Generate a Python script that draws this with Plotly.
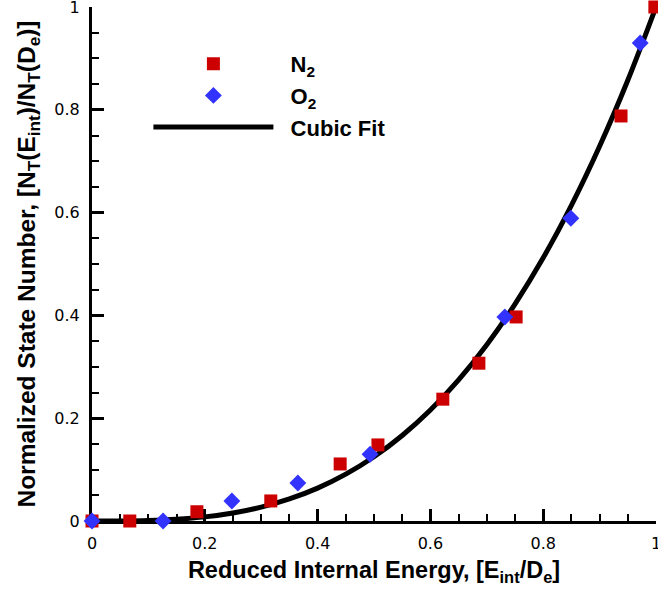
import plotly.graph_objects as go

# Data
n2_x = [0.0, 0.067, 0.186, 0.317, 0.44, 0.507, 0.622, 0.686, 0.752, 0.938, 0.998]
n2_y = [0.0, 0.0, 0.018, 0.039, 0.111, 0.148, 0.237, 0.307, 0.397, 0.788, 1.0]

o2_x = [0.0, 0.126, 0.248, 0.365, 0.493, 0.732, 0.849, 0.972]
o2_y = [0.0, 0.0, 0.039, 0.074, 0.130, 0.397, 0.589, 0.930]

fit_x = [0.0, 0.05, 0.1, 0.15, 0.2, 0.25, 0.3, 0.35, 0.4, 0.45, 0.5,
         0.55, 0.6, 0.65, 0.7, 0.75, 0.8, 0.85, 0.9, 0.95, 1.0]
fit_y = [0.0, 0.0001, 0.001, 0.0034, 0.008, 0.0156, 0.027, 0.0429, 0.064, 0.0911, 0.125,
         0.1664, 0.216, 0.2746, 0.343, 0.4219, 0.512, 0.6141, 0.729, 0.8574, 1.0]

tick_vals = [0, 0.2, 0.4, 0.6, 0.8, 1]
tick_text = ["0", "0.2", "0.4", "0.6", "0.8", "1"]

BOLD = "Liberation Sans, Arial, Helvetica, sans-serif"
TICKF = "DejaVu Sans, Liberation Sans, sans-serif"
NB = "\u00a0\u00a0"

fig = go.Figure()
fig.add_trace(go.Scatter(
    x=fit_x, y=fit_y, mode="lines", name=NB + "Cubic Fit",
    line=dict(color="black", width=5, shape="spline"),
    cliponaxis=False, legendrank=3,
))
fig.add_trace(go.Scatter(
    x=n2_x, y=n2_y, mode="markers", name=NB + "N<sub>2</sub>",
    marker=dict(symbol="square", size=13, color="#cc0000"),
    cliponaxis=False, legendrank=1,
))
fig.add_trace(go.Scatter(
    x=o2_x, y=o2_y, mode="markers", name=NB + "O<sub>2</sub>",
    marker=dict(symbol="diamond", size=13, color="#3333ff"),
    cliponaxis=False, legendrank=2,
))

axis_common = dict(
    range=[0, 1],
    tickvals=tick_vals, ticktext=tick_text,
    ticks="inside", ticklen=12, tickwidth=2.5, tickcolor="black",
    showline=True, linecolor="black", linewidth=3,
    showgrid=False, zeroline=False,
    layer="below traces",
    ticklabeloverflow="allow",
    ticklabelstandoff=6,
    tickfont=dict(family=TICKF, size=16, color="black"),
    minor=dict(dtick=0.05, ticks="inside", ticklen=7, tickwidth=1.5,
               tickcolor="black", showgrid=False),
)

fig.update_xaxes(
    **axis_common,
    title=dict(text="Reduced Internal Energy, [E<sub>int</sub>/D<sub>e</sub>]",
               font=dict(family=BOLD, size=23.5, color="black", weight="bold"),
               standoff=10),
)
fig.update_yaxes(
    **axis_common,
    title=dict(text="Normalized State Number, [N<sub>T</sub>(E<sub>int</sub>)/N<sub>T</sub>(D<sub>e</sub>)]",
               font=dict(family=BOLD, size=24.5, color="black", weight="bold"),
               standoff=12),
)

fig.update_layout(
    width=658, height=592,
    margin=dict(l=92, r=2, t=7, b=71, autoexpand=False),
    plot_bgcolor="white", paper_bgcolor="white",
    showlegend=True,
    legend=dict(
        x=0.1, y=0.93, xanchor="left", yanchor="top",
        bgcolor="rgba(0,0,0,0)",
        font=dict(family=BOLD, size=22, color="black", weight="bold"),
        itemwidth=120,
        traceorder="normal",
    ),
)

fig.write_html("out.html", config={"displayModeBar": False},
               post_script="document.body.style.margin='0px';")
